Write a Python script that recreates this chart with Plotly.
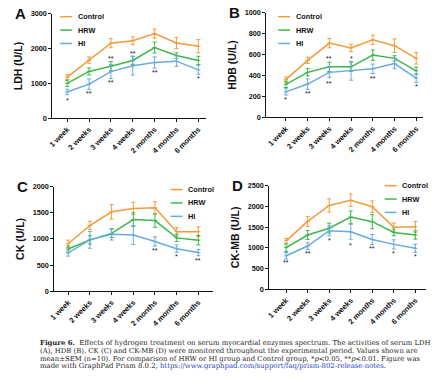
import plotly.graph_objects as go

W, H = 436, 386

categories = ["1 week", "2 weeks", "3 weeks", "4 weeks", "2 months", "4 months", "6 months"]
groups = ["Control", "HRW", "HI"]

# Panel A: LDH
ldh_control = [1180, 1670, 2155, 2225, 2430, 2160, 2070]
ldh_control_err = [70, 90, 130, 110, 130, 160, 190]
ldh_hrw = [1000, 1345, 1495, 1660, 2030, 1800, 1660]
ldh_hrw_err = [90, 100, 130, 120, 160, 80, 120]
ldh_hi = [755, 980, 1340, 1510, 1600, 1640, 1390]
ldh_hi_err = [80, 150, 200, 270, 160, 150, 130]
ldh_stars = [("1 week", 520, "*"), ("2 weeks", 720, "**"), ("3 weeks", 1715, "**"),
             ("3 weeks", 1040, "**"), ("4 weeks", 1865, "**"), ("2 months", 1320, "**"),
             ("6 months", 1140, "*")]

# Panel B: HDB
hdb_control = [360, 545, 710, 664, 741, 685, 564]
hdb_control_err = [25, 30, 45, 35, 45, 65, 55]
hdb_hrw = [315, 430, 483, 483, 595, 564, 445]
hdb_hrw_err = [30, 35, 45, 45, 50, 25, 35]
hdb_hi = [243, 318, 430, 445, 464, 514, 374]
hdb_hi_err = [30, 50, 50, 90, 45, 50, 40]
hdb_stars = [("1 week", 168, "*"), ("2 weeks", 232, "**"), ("3 weeks", 561, "**"),
             ("3 weeks", 328, "**"), ("4 weeks", 561, "*"), ("2 months", 376, "**"),
             ("6 months", 294, "*")]

# Panel C: CK
ck_control = [906, 1256, 1519, 1581, 1594, 1138, 1138]
ck_control_err = [70, 80, 140, 120, 120, 80, 90]
ck_hrw = [806, 981, 1106, 1369, 1350, 1019, 975]
ck_hrw_err = [60, 80, 80, 130, 130, 70, 90]
ck_hi = [731, 981, 1088, 1075, 950, 813, 738]
ck_hi_err = [60, 160, 110, 180, 90, 70, 60]
ck_stars = [("2 months", 780, "**"), ("4 months", 668, "*"), ("6 months", 588, "**")]

# Panel D: CK-MB
ckmb_control = [1168, 1638, 2022, 2147, 1991, 1497, 1505]
ckmb_control_err = [60, 120, 160, 150, 140, 100, 130]
ckmb_hrw = [1003, 1309, 1473, 1740, 1630, 1371, 1309]
ckmb_hrw_err = [90, 110, 120, 150, 170, 80, 100]
ckmb_hi = [807, 1042, 1411, 1387, 1199, 1082, 987]
ckmb_hi_err = [80, 80, 120, 180, 120, 110, 100]
ckmb_stars = [("1 week", 640, "**"), ("2 weeks", 850, "**"), ("3 weeks", 1165, "*"),
              ("4 weeks", 1063, "*"), ("2 months", 985, "**"), ("4 months", 868, "*"),
              ("6 months", 788, "*")]

colors = {"Control": "#F39B3C", "HRW": "#3DB84A", "HI": "#6AAAE2"}
FONT = "Arial, Liberation Sans, sans-serif"

panels = [
    dict(letter="A", title="LDH (U/L)", series=[ldh_control, ldh_hrw, ldh_hi],
         errs=[ldh_control_err, ldh_hrw_err, ldh_hi_err], stars=ldh_stars,
         xpx=(47, 203), ypx=(10, 117), yrange=(0, 3000), dtick=1000, xr=(-0.68, 6.36),
         legend=(55, 13)),
    dict(letter="B", title="HDB (U/L)", series=[hdb_control, hdb_hrw, hdb_hi],
         errs=[hdb_control_err, hdb_hrw_err, hdb_hi_err], stars=hdb_stars,
         xpx=(264, 423), ypx=(9, 116), yrange=(0, 1000), dtick=200, xr=(-0.9, 6.32),
         legend=(276, 13)),
    dict(letter="C", title="CK (U/L)", series=[ck_control, ck_hrw, ck_hi],
         errs=[ck_control_err, ck_hrw_err, ck_hi_err], stars=ck_stars,
         xpx=(49, 210), ypx=(187, 294), yrange=(0, 2000), dtick=500, xr=(-0.64, 6.68),
         legend=(167, 190)),
    dict(letter="D", title="CK-MB (U/L)", series=[ckmb_control, ckmb_hrw, ckmb_hi],
         errs=[ckmb_control_err, ckmb_hrw_err, ckmb_hi_err], stars=ckmb_stars,
         xpx=(267, 426), ypx=(186, 292), yrange=(0, 2500), dtick=500, xr=(-0.78, 6.5),
         legend=(384, 186)),
]

fig = go.Figure()
annotations = []
shapes = []

for i, p in enumerate(panels):
    n = i + 1
    xa = "x" if n == 1 else f"x{n}"
    ya = "y" if n == 1 else f"y{n}"
    xkey = "xaxis" if n == 1 else f"xaxis{n}"
    ykey = "yaxis" if n == 1 else f"yaxis{n}"
    x0, x1 = p["xpx"]
    yt, yb = p["ypx"]
    fig.update_layout(**{
        xkey: dict(domain=[x0 / W, x1 / W], anchor=ya, type="category",
                   categoryorder="array", categoryarray=categories,
                   range=list(p["xr"]), showgrid=False, zeroline=False,
                   showline=True, linecolor="#111", linewidth=1,
                   ticks="outside", ticklen=3, tickwidth=1, tickcolor="#111",
                   tickangle=-45, tickfont=dict(family=FONT, size=7.5, color="#111", weight="bold")),
        ykey: dict(domain=[1 - yb / H, 1 - yt / H], anchor=xa, range=list(p["yrange"]),
                   dtick=p["dtick"], showgrid=False, zeroline=False,
                   showline=True, linecolor="#111", linewidth=1,
                   ticks="outside", ticklen=3, tickwidth=1, tickcolor="#111",
                   tickfont=dict(family=FONT, size=7.3, color="#111", weight="bold"),
                   title=dict(text=p["title"], standoff=5,
                              font=dict(family=FONT, size=10.5, color="#111", weight="bold"))),
    })
    for g, vals, err in zip(groups, p["series"], p["errs"]):
        fig.add_trace(go.Scatter(
            x=categories, y=vals, xaxis=xa, yaxis=ya, mode="lines+markers", name=g,
            showlegend=False, line=dict(color=colors[g], width=1.5),
            marker=dict(color=colors[g], size=3, symbol="line-ew-open",
                        line=dict(color=colors[g], width=1)),
            error_y=dict(type="data", array=err, visible=True, color=colors[g],
                         thickness=1, width=2)))
    for cat, yv, s in p["stars"]:
        annotations.append(dict(x=cat, y=yv, xref=xa, yref=ya, text=s, showarrow=False,
                                font=dict(family=FONT, size=7, color="#111"),
                                xanchor="center", yanchor="middle"))
    # panel letter
    annotations.append(dict(x=(x0 - 40) / W, y=1 - (yt) / H, xref="paper", yref="paper",
                            text=p["letter"], showarrow=False, xanchor="left", yanchor="middle",
                            font=dict(family=FONT, size=15, color="#111", weight="bold")))
    # legend
    lx, ly = p["legend"]
    for k, g in enumerate(groups):
        yy = ly + k * 13.7
        shapes.append(dict(type="line", xref="paper", yref="paper",
                           x0=lx / W, x1=(lx + 12) / W, y0=1 - yy / H, y1=1 - yy / H,
                           line=dict(color=colors[g], width=1.5)))
        annotations.append(dict(x=(lx + 16) / W, y=1 - yy / H, xref="paper", yref="paper",
                                text=g, showarrow=False, xanchor="left", yanchor="middle",
                                font=dict(family=FONT, size=7.3, color="#111", weight="bold")))

caption_lines = [
    "<b>Figure 6.</b>  Effects of hydrogen treatment on serum myocardial enzymes spectrum. The activities of serum LDH",
    "(A), HDB (B), CK (C) and CK-MB (D) were monitored throughout the experimental period. Values shown are",
    "mean±SEM (n=10). For comparison of HRW or HI group and Control group, *<i>p</i><0.05, **<i>p</i><0.01. Figure was",
    "made with GraphPad Prism 8.0.2, <span style='color:#2a3cc9'>https://www.graphpad.com/support/faq/prism-802-release-notes</span>.",
]
for k, line in enumerate(caption_lines):
    annotations.append(dict(x=32 / W, y=1 - (347 + k * 8) / H, xref="paper", yref="paper",
                            text=line, showarrow=False, xanchor="left", yanchor="middle",
                            font=dict(family="DejaVu Serif, serif", size=6.9, color="#222")))

fig.update_layout(width=W, height=H, margin=dict(l=0, r=0, t=0, b=0),
                  paper_bgcolor="white", plot_bgcolor="white", showlegend=False,
                  annotations=annotations, shapes=shapes)

fig.write_html("out.html", config={"displayModeBar": False},
               post_script="document.body.style.margin='0px';document.body.style.overflow='hidden';")
